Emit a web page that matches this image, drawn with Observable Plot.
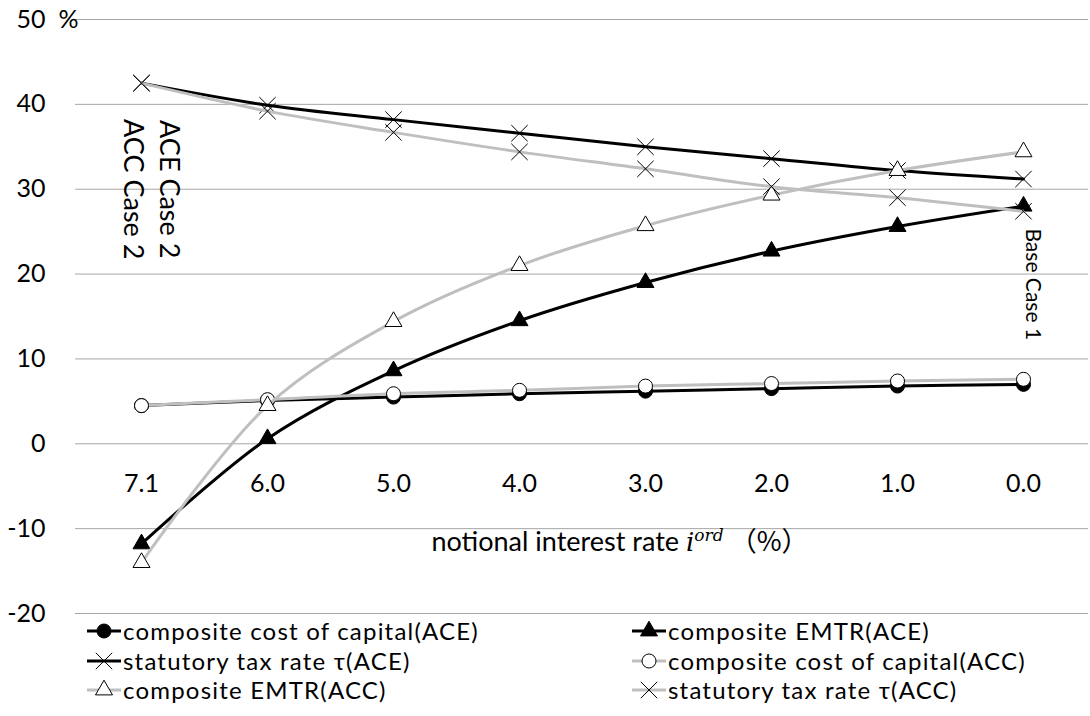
<!DOCTYPE html>
<html><head><meta charset="utf-8">
<script src="https://cdn.jsdelivr.net/npm/d3@7"></script>
<script src="https://cdn.jsdelivr.net/npm/@observablehq/plot@0.6"></script>
<style>
body{margin:0;background:#fff;font-family:Lato,sans-serif;}
#chart svg{display:block;overflow:visible;}
#legend{position:relative;width:1090px;height:100px;font-size:24px;letter-spacing:1.2px;color:#000;}
.item{position:absolute;display:flex;align-items:center;height:30px;white-space:nowrap;line-height:1;}
.item span{line-height:1;}
.item svg{display:block;margin-right:2px;}
</style></head><body>
<div id="chart"></div>
<div id="legend"></div>
<script>
// ---- data ----
const rates = ["7.1","6.0","5.0","4.0","3.0","2.0","1.0","0.0"];
const costACE = [4.5, 5.1, 5.5, 5.9, 6.2, 6.5, 6.8, 7.0];
const emtrACE = [-11.8, 0.6, 8.6, 14.5, 19.0, 22.7, 25.6, 28.0];
const statACE = [42.5, 39.9, 38.2, 36.6, 35.0, 33.6, 32.2, 31.2];
const costACC = [4.5, 5.2, 5.9, 6.3, 6.8, 7.1, 7.4, 7.6];
const emtrACC = [-14.0, 4.5, 14.4, 21.0, 25.7, 29.3, 32.2, 34.4];
const statACC = [42.5, 39.2, 36.7, 34.4, 32.4, 30.3, 29.0, 27.4];
const seriesNames = [
  "composite cost of capital(ACE)", "composite EMTR(ACE)", "statutory tax rate τ(ACE)",
  "composite cost of capital(ACC)", "composite EMTR(ACC)", "statutory tax rate τ(ACC)"
];
const yTicks = [-20, -10, 0, 10, 20, 30, 40, 50];
const noteTexts = ["ACE Case 2", "ACC Case 2", "Base Case 1"];
const noteRates = ["7.1", "7.1", "0.0"];
const noteValues = [30, 30, 18.8];

// ---- styles ----
const BLACK = "#000", GRAY = "#bfbfbf";
const styles = [
  {line: BLACK, symbol: "circle", fill: BLACK, stroke: BLACK, r: 7},
  {line: BLACK, symbol: "triangle", fill: BLACK, stroke: BLACK, r: 6.3},
  {line: BLACK, symbol: "times", fill: "none", stroke: BLACK, r: 7.5},
  {line: GRAY, symbol: "circle", fill: "white", stroke: BLACK, r: 7},
  {line: GRAY, symbol: "triangle", fill: "white", stroke: BLACK, r: 6.3},
  {line: GRAY, symbol: "times", fill: "none", stroke: BLACK, r: 7.5}
];
const allValues = [costACE, emtrACE, statACE, costACC, emtrACC, statACC];
const seriesData = allValues.map((vals, i) => rates.map((rate, j) => ({rate, value: vals[j], series: seriesNames[i]})));
const notes = noteTexts.map((t, i) => ({text: t, rate: noteRates[i], value: noteValues[i]}));

const FS = 25, TFS = 27;
const marks = [
  Plot.gridY(yTicks, {stroke: "#a6a6a6", strokeOpacity: 1, strokeWidth: 1}),
  Plot.axisY(yTicks, {tickSize: 0, tickPadding: 30, fontSize: FS, fill: "#000", label: null, tickFormat: d => String(d)}),
  Plot.text(["%"], {frameAnchor: "left", y: () => 50, dx: -17, textAnchor: "start", fontSize: FS, fill: "#000"}),
  Plot.text(rates, {x: d => d, y: () => 0, dy: 40, text: d => d, fontSize: FS, fill: "#000"})
];
seriesData.forEach((data, i) => {
  const s = styles[i];
  marks.push(Plot.line(data, {x: "rate", y: "value", stroke: s.line, strokeWidth: 3, curve: "catmull-rom"}));
  marks.push(Plot.dot(data, {x: "rate", y: "value", symbol: () => s.symbol, r: s.r, fill: s.fill, stroke: s.stroke, strokeWidth: 1}));
});
marks.push(Plot.text([notes[0]], {x: "rate", y: "value", text: "text", rotate: 90, dx: 27, fontSize: TFS, fill: "#000"}));
marks.push(Plot.text([notes[1]], {x: "rate", y: "value", text: "text", rotate: 90, dx: -9, fontSize: TFS, fill: "#000"}));
marks.push(Plot.text([notes[2]], {x: "rate", y: "value", text: "text", rotate: 90, dx: 9, fontSize: 21, fill: "#000"}));

const chart = Plot.plot({
  width: 1090, height: 616,
  marginLeft: 75, marginRight: 2, marginTop: 19, marginBottom: 3,
  style: {fontFamily: "Lato, sans-serif", background: "#fff", overflow: "visible"},
  x: {type: "point", domain: rates, padding: 0.5, axis: null},
  y: {domain: [-20, 50]},
  symbol: {type: "identity"},
  marks
});
document.getElementById("chart").appendChild(chart);

// x-axis title with math italic
const yS = chart.scale("y");
const svg = d3.select(chart);
const t = svg.append("text").attr("x", 620).attr("y", yS.apply(-10) + 23)
  .attr("text-anchor", "middle").attr("fill", "#000").attr("font-size", TFS);
t.append("tspan").attr("font-family", "Lato, sans-serif").text("notional interest rate ");
t.append("tspan").attr("font-family", "DejaVu Serif, serif").attr("font-style", "italic").attr("font-size", 26).text("i");
t.append("tspan").attr("font-family", "DejaVu Serif, serif").attr("font-style", "italic").attr("font-size", 17).attr("dy", -10).text("ord");
t.append("tspan").attr("font-family", "'Noto Sans CJK JP', sans-serif").attr("font-size", 27).attr("dy", 10).text(" （%）");

// legend
const legend = d3.select("#legend");
const positions = [[87, 0], [632, 0], [87, 30], [632, 30], [87, 59], [632, 59]];
const symMap = {circle: d3.symbolCircle, triangle: d3.symbolTriangle, times: d3.symbolTimes};
seriesNames.forEach((name, i) => {
  const s = styles[i];
  const it = legend.append("div").attr("class", "item").style("left", positions[i][0] + "px").style("top", positions[i][1] + "px");
  const sv = it.append("svg").attr("width", 34).attr("height", 20);
  sv.append("line").attr("x1", 0).attr("x2", 34).attr("y1", 10).attr("y2", 10).attr("stroke", s.line).attr("stroke-width", 3);
  sv.append("path").attr("transform", "translate(17,10)")
    .attr("d", d3.symbol(symMap[s.symbol], Math.PI * s.r * s.r)())
    .attr("fill", s.fill).attr("stroke", s.stroke).attr("stroke-width", 1);
  it.append("span").text(name);
});
</script>
</body></html>
